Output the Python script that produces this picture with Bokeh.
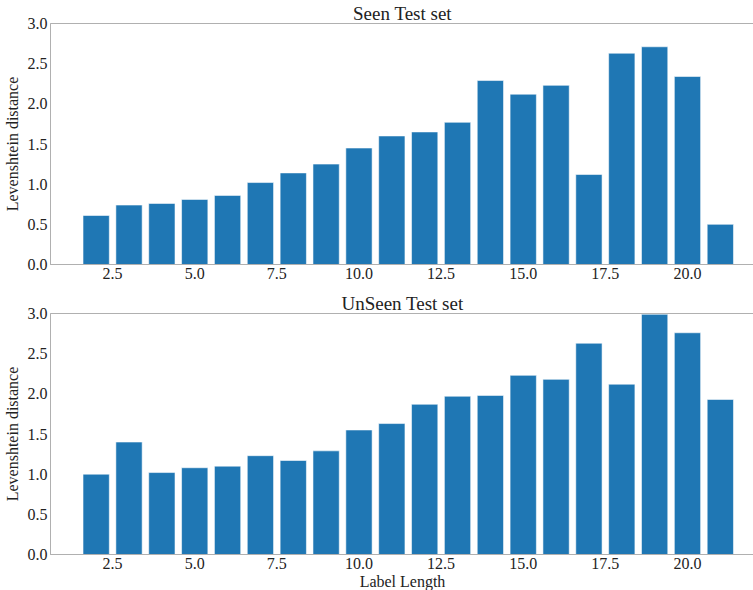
from bokeh.plotting import figure
from bokeh.layouts import column
from bokeh.models import Range1d, FixedTicker, NumeralTickFormatter, ColumnDataSource
from bokeh.embed import file_html
from bokeh.resources import INLINE

lengths = list(range(2, 22))
seen = [0.61, 0.74, 0.76, 0.81, 0.86, 1.02, 1.14, 1.25, 1.45, 1.60, 1.65, 1.77,
        2.29, 2.12, 2.23, 1.12, 2.63, 2.71, 2.34, 0.50]
unseen = [1.00, 1.40, 1.02, 1.08, 1.10, 1.23, 1.17, 1.29, 1.55, 1.63, 1.87, 1.97,
          1.98, 2.23, 2.18, 2.63, 2.12, 2.99, 2.76, 1.93]
x_ticks = [2.5, 5.0, 7.5, 10.0, 12.5, 15.0, 17.5, 20.0]
y_ticks = [0.0, 0.5, 1.0, 1.5, 2.0, 2.5, 3.0]

FONT = "Liberation Serif"
GRAY = "#b0b0b0"


def make(title, values, xlabel=None, top_border=0):
    src = ColumnDataSource(dict(x=lengths, top=values))
    p = figure(output_backend="svg", toolbar_location=None,
               frame_width=704, frame_height=241,
               x_range=Range1d(0.61, 22.04), y_range=Range1d(0, 3.0),
               min_border=0, min_border_right=1, min_border_top=top_border)
    p.vbar(x="x", top="top", width=0.8, source=src, fill_color="#1f77b4",
           line_color="white", line_alpha=0.55, line_width=1)
    p.title.text = title
    p.title.align = "center"
    p.title.text_font = FONT
    p.title.text_font_style = "normal"
    p.title.text_font_size = "19px"
    p.title.text_color = "#222222"
    p.title.standoff = 0
    p.title.offset = 0
    p.xgrid.visible = False
    p.ygrid.visible = False
    p.outline_line_color = GRAY
    p.outline_line_width = 1
    for ax in (p.xaxis[0], p.yaxis[0]):
        ax.axis_line_color = GRAY
        ax.major_tick_line_color = None
        ax.minor_tick_line_color = None
        ax.major_tick_out = 0
        ax.major_label_text_font = FONT
        ax.major_label_text_font_size = "16px"
        ax.major_label_text_color = "#222222"
        ax.axis_label_text_font = FONT
        ax.axis_label_text_font_size = "16px"
        ax.axis_label_text_font_style = "normal"
        ax.axis_label_text_color = "#222222"
    p.xaxis.ticker = FixedTicker(ticks=x_ticks)
    p.yaxis.ticker = FixedTicker(ticks=y_ticks)
    p.xaxis.formatter = NumeralTickFormatter(format="0.0")
    p.yaxis.formatter = NumeralTickFormatter(format="0.0")
    p.xaxis.major_label_standoff = 3
    p.yaxis.major_label_standoff = 3
    p.yaxis.axis_label = "Levenshtein distance"
    p.yaxis.axis_label_standoff = 4
    if xlabel:
        p.xaxis.axis_label = xlabel
        p.xaxis.axis_label_standoff = 1
    return p


p1 = make("Seen Test set", seen)
p2 = make("UnSeen Test set", unseen, "Label Length", top_border=32)
layout = column(p1, p2, spacing=0)

open("out.html", "w").write(file_html(layout, INLINE))
